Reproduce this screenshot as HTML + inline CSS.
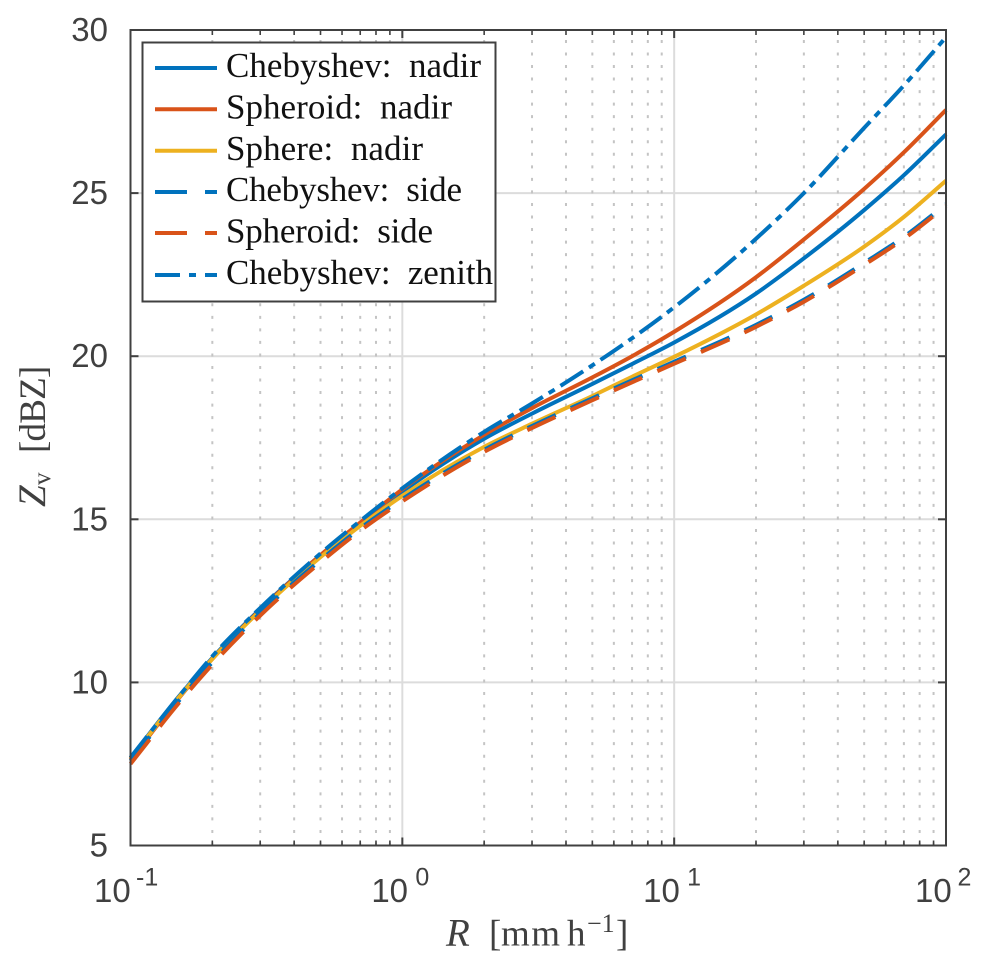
<!DOCTYPE html>
<html lang="en">
<head>
<meta charset="utf-8">
<title>Z_v versus R</title>
<style>
html,body{margin:0;padding:0;background:#fff;}
svg{display:block;}
.tick-label{font-family:"Liberation Sans",Arial,sans-serif;font-size:33px;fill:#404040;}
.tick-exp{font-family:"Liberation Sans",Arial,sans-serif;font-size:25px;fill:#404040;}
.serif{font-family:"Liberation Serif","Times New Roman",serif;}
.legend-text{font-family:"Liberation Serif","Times New Roman",serif;font-size:35px;fill:#111;}
</style>
</head>
<body>
<svg id="chart" xmlns="http://www.w3.org/2000/svg" width="987" height="974" viewBox="0 0 987 974">
  <rect x="130" y="30" width="816" height="815.5" fill="#fff"/>
  <g id="grid"></g>
  <g id="series" fill="none" stroke-width="4"></g>
  <g id="axes"></g>

  <g>
    <rect x="142.5" y="42.5" width="353" height="259" fill="#fff" stroke="#404040" stroke-width="2"/>
    <g>
      <line x1="155" x2="217" y1="68" y2="68" stroke="#0072BD" stroke-width="4"/>
      <text class="legend-text" x="226" y="77" textLength="255" lengthAdjust="spacing" xml:space="preserve">Chebyshev:  nadir</text>
    </g>
    <g>
      <line x1="155" x2="217" y1="109.3" y2="109.3" stroke="#D95319" stroke-width="4"/>
      <text class="legend-text" x="226" y="118.5" textLength="226" lengthAdjust="spacing" xml:space="preserve">Spheroid:  nadir</text>
    </g>
    <g>
      <line x1="155" x2="217" y1="150.7" y2="150.7" stroke="#EDB120" stroke-width="4"/>
      <text class="legend-text" x="226" y="160" textLength="197" lengthAdjust="spacing" xml:space="preserve">Sphere:  nadir</text>
    </g>
    <g>
      <line x1="155" x2="217" y1="192" y2="192" stroke="#0072BD" stroke-width="4" stroke-dasharray="32 18"/>
      <text class="legend-text" x="226" y="201" textLength="236" lengthAdjust="spacing" xml:space="preserve">Chebyshev:  side</text>
    </g>
    <g>
      <line x1="155" x2="217" y1="233" y2="233" stroke="#D95319" stroke-width="4" stroke-dasharray="32 18"/>
      <text class="legend-text" x="226" y="242.5" textLength="207" lengthAdjust="spacing" xml:space="preserve">Spheroid:  side</text>
    </g>
    <g>
      <line x1="155" x2="217" y1="275" y2="275" stroke="#0072BD" stroke-width="4" stroke-dasharray="25 9 7 9"/>
      <text class="legend-text" x="226" y="284" textLength="267" lengthAdjust="spacing" xml:space="preserve">Chebyshev:  zenith</text>
    </g>
  </g>

  <text class="serif" y="945.7" font-size="37" fill="#404040" xml:space="preserve"><tspan x="446" font-style="italic" font-size="39">R</tspan><tspan x="489">[</tspan><tspan x="501" letter-spacing="1.5">mm</tspan><tspan x="567">h</tspan><tspan x="587" y="932" font-size="26">−1</tspan><tspan x="616" y="945.7">]</tspan></text>
  <text class="serif" transform="translate(45,507) rotate(-90)" y="0" font-size="37" fill="#404040" xml:space="preserve"><tspan x="0" font-style="italic" font-size="39">Z</tspan><tspan x="22" y="5" font-size="25">v</tspan><tspan x="54" y="0" letter-spacing="-0.8">[dBZ]</tspan></text>
</svg>

<script>
// Chart data
const rainRates = [0.1, 0.15, 0.2, 0.3, 0.5, 0.7, 1, 2, 3, 5, 7, 10, 20, 30, 50, 70, 100];
const chebyshevNadir = [7.68, 9.55, 10.75, 12.25, 13.9, 14.88, 15.85, 17.47, 18.24, 19.15, 19.76, 20.42, 21.92, 23.0, 24.48, 25.55, 26.8];
const spheroidNadir = [7.62, 9.5, 10.72, 12.22, 13.9, 14.9, 15.92, 17.59, 18.41, 19.35, 20.0, 20.75, 22.42, 23.58, 25.13, 26.25, 27.55];
const sphereNadir = [7.66, 9.52, 10.72, 12.2, 13.84, 14.8, 15.72, 17.22, 17.93, 18.78, 19.37, 19.98, 21.28, 22.16, 23.36, 24.27, 25.38];
const chebyshevSide = [7.6, 9.42, 10.62, 12.12, 13.75, 14.72, 15.62, 17.13, 17.86, 18.71, 19.26, 19.83, 20.96, 21.73, 22.86, 23.66, 24.66];
const spheroidSide = [7.5, 9.35, 10.55, 12.05, 13.68, 14.65, 15.55, 17.07, 17.8, 18.65, 19.2, 19.77, 20.9, 21.67, 22.8, 23.6, 24.6];
const chebyshevZenith = [7.7, 9.55, 10.8, 12.28, 13.95, 14.95, 15.95, 17.68, 18.55, 19.72, 20.55, 21.5, 23.6, 25.0, 27.0, 28.3, 29.78];

const xDecades = [-1, 0, 1, 2];
const xMinorMultipliers = [2, 3, 4, 5, 6, 7, 8, 9];
const yTicks = [5, 10, 15, 20, 25, 30];
const xExponentLabels = ["-1", "0", "1", "2"];

const NS = 'http://www.w3.org/2000/svg';
const plotLeft = 130.5, plotRight = 946, plotTop = 30, plotBottom = 845.5;
const logMin = -1, logMax = 2, zMin = 5, zMax = 30;

function xScale(r) {
  return plotLeft + (Math.log10(r) - logMin) / (logMax - logMin) * (plotRight - plotLeft);
}
function yScale(z) {
  return plotBottom - (z - zMin) / (zMax - zMin) * (plotBottom - plotTop);
}
function curvePath(xs, ys) {
  const px = xs.map(xScale);
  const py = ys.map(yScale);
  const n = px.length;
  const slope = [];
  for (let i = 0; i < n; i++) {
    if (i === 0) {
      slope.push((py[1] - py[0]) / (px[1] - px[0]));
    } else if (i === n - 1) {
      slope.push((py[i] - py[i - 1]) / (px[i] - px[i - 1]));
    } else {
      const h0 = px[i] - px[i - 1];
      const h1 = px[i + 1] - px[i];
      const d0 = (py[i] - py[i - 1]) / h0;
      const d1 = (py[i + 1] - py[i]) / h1;
      slope.push((h1 * d0 + h0 * d1) / (h0 + h1));
    }
  }
  let d = 'M' + px[0].toFixed(2) + ' ' + py[0].toFixed(2);
  for (let i = 0; i < n - 1; i++) {
    const h = (px[i + 1] - px[i]) / 3;
    d += ' C' + (px[i] + h).toFixed(2) + ' ' + (py[i] + slope[i] * h).toFixed(2) +
         ' ' + (px[i + 1] - h).toFixed(2) + ' ' + (py[i + 1] - slope[i + 1] * h).toFixed(2) +
         ' ' + px[i + 1].toFixed(2) + ' ' + py[i + 1].toFixed(2);
  }
  return d;
}
function addLine(parent, x1, y1, x2, y2, stroke, width, dash) {
  const el = document.createElementNS(NS, 'line');
  el.setAttribute('x1', x1);
  el.setAttribute('y1', y1);
  el.setAttribute('x2', x2);
  el.setAttribute('y2', y2);
  el.setAttribute('stroke', stroke);
  el.setAttribute('stroke-width', width);
  if (dash) el.setAttribute('stroke-dasharray', dash);
  parent.appendChild(el);
  return el;
}

const gridLayer = document.getElementById('grid');
const axesLayer = document.getElementById('axes');
const seriesLayer = document.getElementById('series');

// Grid lines
yTicks.forEach(function (z) {
  if (z === zMin || z === zMax) return;
  const el = addLine(gridLayer, plotLeft, yScale(z), plotRight, yScale(z), '#dcdcdc', 2);
  
  
});
xDecades.forEach(function (e) {
  const r = Math.pow(10, e);
  if (e !== logMin && e !== logMax) {
    const el = addLine(gridLayer, xScale(r), plotBottom, xScale(r), plotTop, '#dcdcdc', 2);
    
    
  }
  if (e === logMax) return;
  xMinorMultipliers.forEach(function (m) {
    const el = addLine(gridLayer, xScale(m * r), plotBottom, xScale(m * r), plotTop, '#c4c4c4', 2, '3 9.54');
    
    
  });
});

// Series, in drawing order
const seriesDraw = [
  ['chebyshev-nadir', chebyshevNadir, '#0072BD', 'solid'],
  ['spheroid-nadir', spheroidNadir, '#D95319', 'solid'],
  ['sphere-nadir', sphereNadir, '#EDB120', 'solid'],
  ['chebyshev-side', chebyshevSide, '#0072BD', 'dash'],
  ['spheroid-side', spheroidSide, '#D95319', 'dash'],
  ['chebyshev-zenith', chebyshevZenith, '#0072BD', 'dashdot']
];
seriesDraw.forEach(function (s) {
  const path = document.createElementNS(NS, 'path');
  path.setAttribute('d', curvePath(rainRates, s[1]));
  path.setAttribute('stroke', s[2]);
  
  
  seriesLayer.appendChild(path);
  const total = path.getTotalLength();
  if (s[3] === 'dash') {
    // line ends inside a gap, about 16px after the last dash
    const count = Math.round((total - 48) / 47.5);
    const gap = (total - 48) / count - 31;
    path.setAttribute('stroke-dasharray', '31 ' + gap.toFixed(3));
  } else if (s[3] === 'dashdot') {
    // line ends just after a dot
    const count = Math.round((total - 45) / 48);
    const gap = ((total - 45) / count - 34) / 2;
    path.setAttribute('stroke-dasharray', '27 ' + gap.toFixed(3) + ' 7 ' + gap.toFixed(3));
  }
});

// Axes box
const axisColor = '#404040';
const boxEl = document.createElementNS(NS, 'rect');
boxEl.setAttribute('x', plotLeft);
boxEl.setAttribute('y', plotTop);
boxEl.setAttribute('width', plotRight - plotLeft);
boxEl.setAttribute('height', plotBottom - plotTop);
boxEl.setAttribute('fill', 'none');
boxEl.setAttribute('stroke', axisColor);
boxEl.setAttribute('stroke-width', 2);


axesLayer.appendChild(boxEl);

// X ticks and labels
xDecades.forEach(function (e, idx) {
  const r = Math.pow(10, e);
  const x = xScale(r);
  const majorBottom = addLine(axesLayer, x, plotBottom, x, plotBottom - 8, axisColor, 2);
  
  
  const majorTop = addLine(axesLayer, x, plotTop, x, plotTop + 8, axisColor, 2);
  
  

  const base = document.createElementNS(NS, 'text');
  base.setAttribute('class', 'tick-label');
  base.setAttribute('x', x - (e < 0 ? 36.5 : 31));
  base.setAttribute('y', 902);
  base.textContent = '10';
  
  
  axesLayer.appendChild(base);

  const exp = document.createElementNS(NS, 'text');
  exp.setAttribute('class', 'tick-exp');
  exp.setAttribute('x', x + (e < 0 ? 5.5 : e === logMax ? 11.5 : 13));
  exp.setAttribute('y', 885.7);
  exp.textContent = xExponentLabels[idx];
  
  
  axesLayer.appendChild(exp);

  if (e === logMax) return;
  xMinorMultipliers.forEach(function (m) {
    const xm = xScale(m * r);
    const minorBottom = addLine(axesLayer, xm, plotBottom, xm, plotBottom - 5, axisColor, 1.6);
    
    
    const minorTop = addLine(axesLayer, xm, plotTop, xm, plotTop + 5, axisColor, 1.6);
    
    
  });
});

// Y ticks and labels
yTicks.forEach(function (z) {
  const y = yScale(z);
  const tickLeft = addLine(axesLayer, plotLeft, y, plotLeft + 8, y, axisColor, 2);
  
  
  const tickRight = addLine(axesLayer, plotRight, y, plotRight - 8, y, axisColor, 2);
  
  

  const label = document.createElementNS(NS, 'text');
  label.setAttribute('class', 'tick-label');
  label.setAttribute('x', 108);
  label.setAttribute('y', y + 11);
  label.setAttribute('text-anchor', 'end');
  label.textContent = String(z);
  
  
  axesLayer.appendChild(label);
});
</script>
</body>
</html>
